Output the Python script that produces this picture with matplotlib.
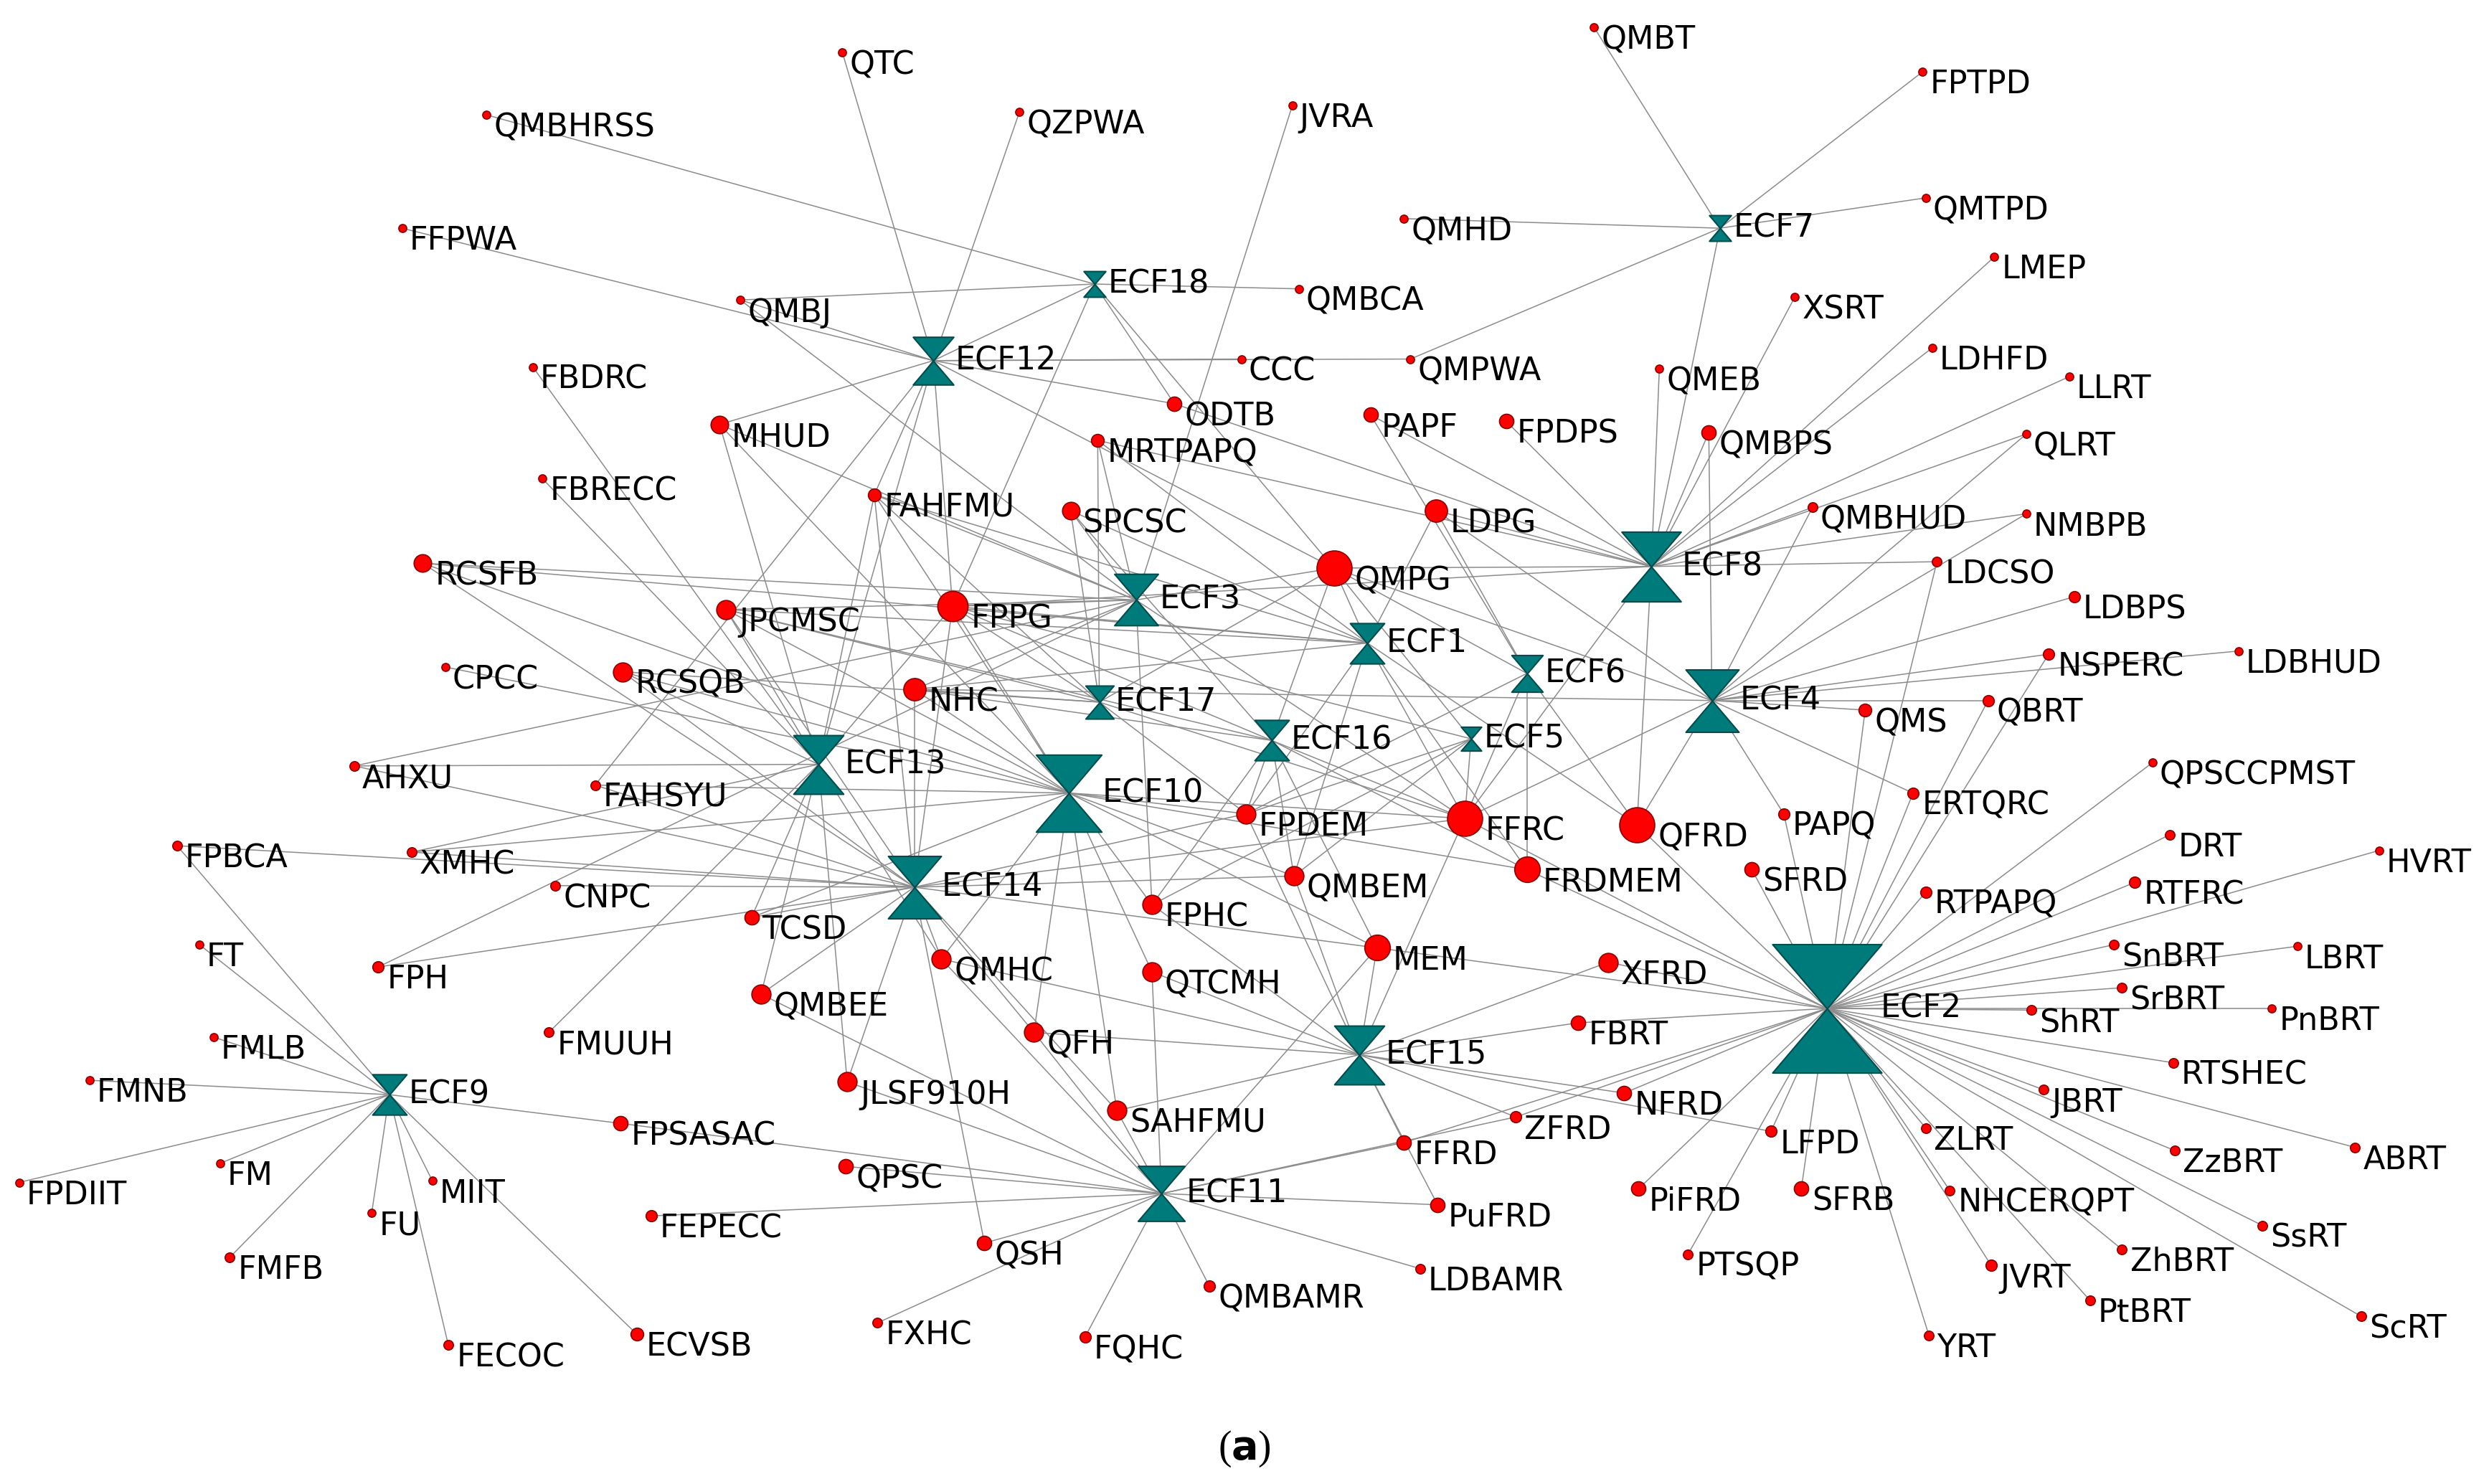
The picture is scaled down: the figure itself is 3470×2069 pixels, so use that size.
import matplotlib
matplotlib.use("Agg")
import matplotlib.pyplot as plt
from matplotlib.path import Path

# ECF hub nodes: name, x, y, size (display units)
ecf_names = ["ECF1","ECF2","ECF3","ECF4","ECF5","ECF6","ECF7","ECF8","ECF9","ECF10",
             "ECF11","ECF12","ECF13","ECF14","ECF15","ECF16","ECF17","ECF18"]
ecf_x = [857,1145,712,1073,922,957,1078,1035,244,670,728,585,513,573,852,797,689,686]
ecf_y = [403,632,376,439,463,422,143,355,686,497,748,226,479,556,661,464,440,178]
ecf_size = [22,70,28,34,13,20,14,38,22,42,30,26,32,34,32,22,18,14]

# factor nodes: name, x, y, size
nodes = [
("QTC",528,33,5),("QZPWA",639,70,5),("JVRA",810,66,5),("QMBHRSS",305,72,5),("FFPWA",252,143,5),
("QMBJ",464,188,5),("QMBT",999,17,5),("FPTPD",1205,45,5),("QMHD",880,137,5),("QMTPD",1207,124,5),
("LMEP",1250,161,5),("XSRT",1125,186,5),("QMBCA",814,181,5),("CCC",778,225,5),("QMPWA",884,225,5),
("QMEB",1040,231,5),("LDHFD",1211,218,5),("LLRT",1297,236,5),("FBDRC",334,230,5),("MHUD",451,266,11),
("ODTB",736,253,9),("MRTPAPQ",688,276,8),("PAPF",859,260,9),("FPDPS",944,264,9),("QMBPS",1071,271,9),
("QLRT",1270,272,5),("FBRECC",340,300,5),("FAHFMU",548,310,8),("SPCSC",671,320,11),("LDPG",900,320,14),
("QMBHUD",1136,318,6),("NMBPB",1270,322,5),("RCSFB",265,353,11),("QMPG",836,356,22),("LDCSO",1214,352,6),
("LDBPS",1300,374,7),("JPCMSC",455,382,12),("FPPG",597,380,19),("NSPERC",1284,410,7),("LDBHUD",1403,408,5),
("CPCC",279,418,5),("RCSQB",390,421,12),("NHC",573,432,14),("QBRT",1246,439,7),("QMS",1169,445,8),
("AHXU",222,480,6),("FAHSYU",373,492,6),("FFRC",918,513,22),("QFRD",1026,517,22),("PAPQ",1118,510,7),
("ERTQRC",1199,497,7),("QPSCCPMST",1349,478,5),("FPBCA",111,530,6),("XMHC",258,534,6),("CNPC",348,555,6),
("FPDEM",781,510,12),("QMBEM",811,549,12),("FRDMEM",957,545,16),("SFRD",1098,545,9),("DRT",1360,523,6),
("HVRT",1491,533,5),("RTPAPQ",1207,559,7),("RTFRC",1338,553,7),("FT",125,592,5),("TCSD",471,575,9),
("FPHC",722,567,12),("FPH",237,606,7),("QMHC",590,601,12),("QTCMH",722,609,12),("MEM",863,594,16),
("XFRD",1008,603,12),("SnBRT",1325,592,6),("LBRT",1440,593,5),("SrBRT",1330,619,6),("PnBRT",1424,632,5),
("ShRT",1273,633,6),("FBRT",989,641,9),("FMLB",134,650,5),("FMUUH",344,647,6),("QMBEE",477,623,12),
("QFH",648,647,12),("RTSHEC",1362,666,6),("FMNB",56,677,5),("JLSF910H",531,678,12),("SAHFMU",700,696,12),
("NFRD",1018,685,9),("JBRT",1281,683,6),("LFPD",1110,709,7),("ZLRT",1207,707,6),("FPSASAC",389,704,9),
("FFRD",880,716,9),("ZFRD",950,700,7),("ABRT",1476,719,6),("ZzBRT",1363,721,6),("FM",138,729,5),
("MIIT",271,740,5),("QPSC",530,731,9),("PuFRD",901,755,9),("PiFRD",1027,745,9),("SFRB",1129,745,9),
("NHCERQPT",1222,746,6),("SsRT",1418,768,6),("FPDIIT",12,741,5),("FU",233,760,5),("FEPECC",408,762,7),
("QSH",617,779,9),("PTSQP",1058,786,6),("JVRT",1248,793,7),("ZhBRT",1330,783,6),("FMFB",144,788,6),
("LDBAMR",890,795,6),("QMBAMR",758,806,7),("PtBRT",1310,815,6),("ScRT",1480,825,6),("FXHC",550,829,6),
("ECVSB",399,836,8),("FQHC",680,838,7),("FECOC",281,843,6),("YRT",1209,837,6),
]

edges = {
"ECF1": ["QMPG","FPPG","FFRC","QFRD","NHC","JPCMSC","FPDEM","MRTPAPQ","SPCSC","LDPG","FAHFMU","QMBEM","FRDMEM","RCSFB"],
"ECF2": ["QPSCCPMST","DRT","HVRT","RTPAPQ","RTFRC","SnBRT","LBRT","SrBRT","PnBRT","ShRT","RTSHEC","JBRT","ABRT",
         "ZzBRT","ZLRT","LFPD","NHCERQPT","SsRT","JVRT","ZhBRT","PtBRT","ScRT","YRT","SFRB","PTSQP","PiFRD","NFRD",
         "ZFRD","SFRD","PAPQ","ERTQRC","QBRT","NSPERC","QMS","FBRT","XFRD","FRDMEM","FFRC","QFRD","LDCSO","FFRD","MEM"],
"ECF3": ["FPPG","QMPG","SPCSC","FAHFMU","MHUD","JPCMSC","RCSFB","NHC","FFRC","MRTPAPQ","FPHC","AHXU","FPH","JVRA","QMBJ"],
"ECF4": ["QMBHUD","LDBPS","NSPERC","LDBHUD","QMS","QBRT","ERTQRC","PAPQ","QMPG","LDPG","FFRC","QFRD","QMBPS","NHC","QLRT","NMBPB"],
"ECF5": ["FFRC","QMPG","FPDEM","FPHC","QMBEM","FPPG"],
"ECF6": ["LDPG","PAPF","FFRC","QMPG","FRDMEM","FPDEM","QFRD"],
"ECF7": ["QMBT","FPTPD","QMHD","QMTPD","QMPWA"],
"ECF8": ["ECF7","LMEP","XSRT","LDHFD","LLRT","QLRT","QMEB","QMBPS","QMBHUD","NMBPB","LDCSO","QMPG","LDPG","PAPF",
         "FPDPS","ODTB","MRTPAPQ","QFRD","FFRC","FPPG"],
"ECF9": ["FPBCA","FT","FMLB","FMNB","FM","FPDIIT","FU","FMFB","MIIT","FECOC","FPSASAC","ECVSB"],
"ECF10": ["FPPG","NHC","RCSQB","JPCMSC","FFRC","FPDEM","QMBEM","MEM","QTCMH","FPHC","QFH","SAHFMU","TCSD","CPCC",
          "XMHC","FAHSYU","QMHC","MHUD","FAHFMU","RCSFB","FRDMEM"],
"ECF11": ["QPSC","FEPECC","QSH","FXHC","FQHC","QMBAMR","LDBAMR","PuFRD","FFRD","SAHFMU","QFH","FPSASAC","JLSF910H",
          "QMHC","QTCMH","ZFRD","MEM","QMBEE"],
"ECF12": ["QTC","QZPWA","QMBJ","FFPWA","CCC","ODTB","MHUD","FAHFMU","QMPG","QMPWA","FPPG","FAHSYU"],
"ECF13": ["FAHFMU","MHUD","FBDRC","FPPG","JPCMSC","RCSQB","ECF12","FMUUH","TCSD","QMHC","JLSF910H","AHXU","XMHC","FBRECC","QMBEE"],
"ECF14": ["AHXU","FAHSYU","XMHC","CNPC","FPH","TCSD","QMBEE","QMHC","JLSF910H","QFH","FPPG","NHC","FAHFMU","FPDEM",
          "FFRC","MEM","QMBEM","RCSQB","JPCMSC","RCSFB","SAHFMU","QSH","FPBCA"],
"ECF15": ["MEM","QMBEM","FFRD","ZFRD","NFRD","FBRT","QTCMH","SAHFMU","QFH","FPHC","XFRD","LFPD","FFRC","QMHC","PuFRD","FPDEM"],
"ECF16": ["FFRC","FPDEM","QMPG","FPPG","SPCSC","NHC","FPHC","MEM","QMBEM","FRDMEM","JPCMSC"],
"ECF17": ["FPPG","NHC","SPCSC","FAHFMU","FFRC","MRTPAPQ","FPDEM","JPCMSC","RCSQB","QMPG"],
"ECF18": ["QMBHRSS","QMBCA","QMBJ","ECF12","FPPG","ODTB","QMPG"],
}

pos = {n: (x, y) for n, x, y in zip(ecf_names, ecf_x, ecf_y)}
for n, x, y, s in nodes:
    pos[n] = (x, y)

W, H = 1560, 930
fig = plt.figure(figsize=(34.70, 20.69), dpi=100)
ax = fig.add_axes([0, 0, 1, 1])
ax.set_xlim(0, W)
ax.set_ylim(H, 0)
ax.axis("off")

k = 3470 / W / (100 / 72)  # display px -> points

for hub, lst in edges.items():
    x0, y0 = pos[hub]
    for t in lst:
        x1, y1 = pos[t]
        ax.plot([x0, x1], [y0, y1], color="#8c8c8c", lw=1.1, zorder=1)

hg = Path([(-0.85, 1), (0.85, 1), (0, 0), (-0.85, -1), (0.85, -1), (0, 0), (-0.85, 1)],
          [Path.MOVETO, Path.LINETO, Path.LINETO, Path.LINETO, Path.LINETO, Path.LINETO, Path.CLOSEPOLY])

fs = 32
for n, x, y, s in zip(ecf_names, ecf_x, ecf_y, ecf_size):
    ax.plot([x], [y], marker=hg, ms=s * 1.15 * k, color="#007b7b", mec="#004c4c", mew=1.5, zorder=3)
    ax.text(x + s * 0.45 + 2, y, n, fontsize=fs, va="center", ha="left", zorder=4, color="#000000")

for n, x, y, s in nodes:
    ax.plot([x], [y], marker="o", ms=s * k, color="#ff0000", mec="#8b0000", mew=1.2, zorder=3)
    ax.text(x + s / 2 + 2, y + 8, n, fontsize=fs, va="center", ha="left", zorder=4, color="#000000")

ax.text(780, 908, r"($\mathbf{a}$)", fontsize=40, ha="center", va="center", family="Liberation Serif")

fig.savefig("out.png", dpi=100)
